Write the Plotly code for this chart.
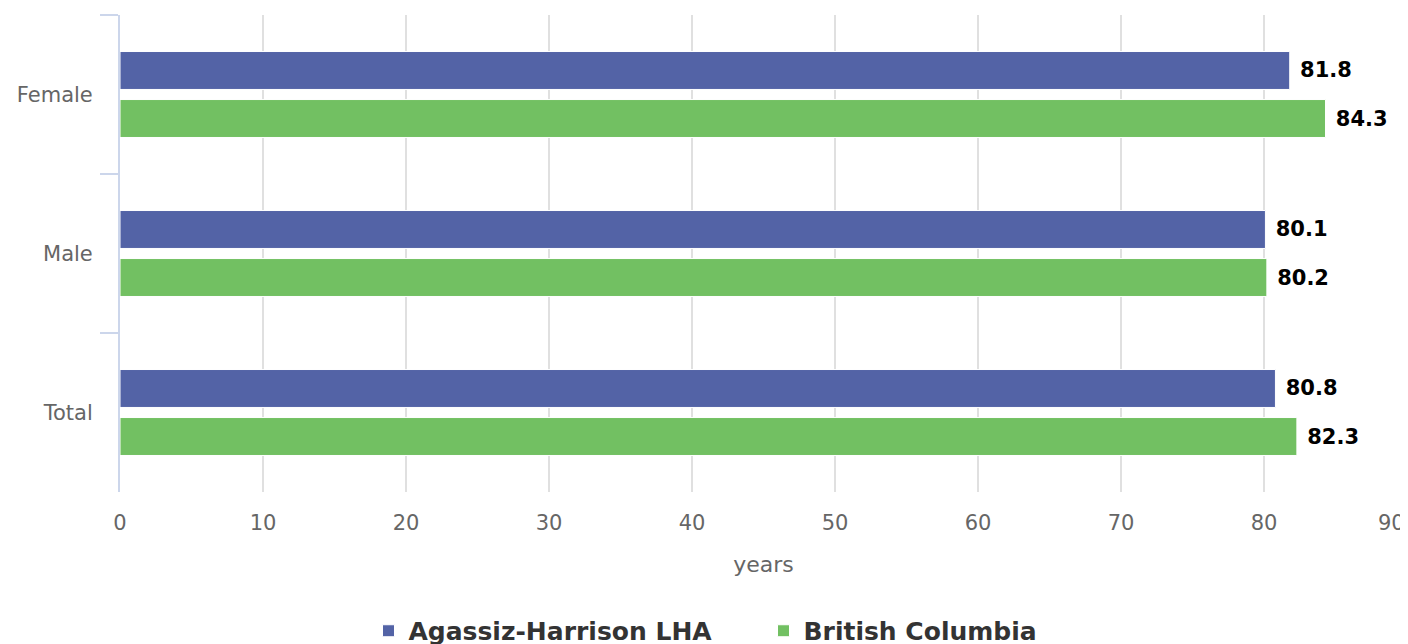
import plotly.graph_objects as go

categories = ["Female", "Male", "Total"]
agassiz_values = [81.8, 80.1, 80.8]
bc_values = [84.3, 80.2, 82.3]
series_names = ["Agassiz-Harrison LHA", "British Columbia"]
x_ticks = [0, 10, 20, 30, 40, 50, 60, 70, 80, 90]
x_title = "years"

FONT = "DejaVu Sans"
colors = ["#5363a6", "#72c062"]

fig = go.Figure()
for name, vals, col in zip(series_names, [agassiz_values, bc_values], colors):
    fig.add_trace(go.Bar(
        y=categories, x=vals, name=name, orientation="h",
        marker=dict(color=col, line=dict(color="#ffffff", width=1)),
        texttemplate="\u00a0%{x:.1f}", textposition="outside",
        textfont=dict(family=FONT, size=21, color="#000000", weight="bold"),
        constraintext="none", cliponaxis=False,
    ))

# page body has an 8px margin; figure is sized/offset to fill the window
fig.update_layout(
    width=1400, height=636,
    margin=dict(l=112, r=1, t=7, b=152, autoexpand=False),
    paper_bgcolor="#ffffff", plot_bgcolor="#ffffff",
    barmode="group", bargap=0.396, bargroupgap=0.21,
    font=dict(family=FONT, color="#666666"),
    showlegend=True,
    legend=dict(orientation="h", x=0.5, xanchor="center", y=-0.2914, yanchor="middle",
                font=dict(family=FONT, size=25, color="#333333", weight="bold"),
                entrywidth=350, entrywidthmode="pixels",
                traceorder="normal"),
    xaxis=dict(range=[0, 90], tickvals=x_ticks[:-1], ticktext=[str(t) for t in x_ticks[:-1]],
               showgrid=True, gridcolor="#e0e0e0", gridwidth=1.5, zeroline=False,
               showline=False, ticks="outside", ticklen=12, tickcolor="rgba(0,0,0,0)",
               tickfont=dict(family=FONT, size=21, color="#666666"),
               title=dict(text=x_title, font=dict(family=FONT, size=22, color="#666666"), standoff=22)),
    yaxis=dict(categoryorder="array", categoryarray=categories, autorange="reversed",
               showgrid=False, zeroline=False, showline=True, linecolor="#ccd6eb", linewidth=2,
               ticks="outside", tickson="boundaries", ticklen=18, tickcolor="#ccd6eb", tickwidth=2,
               ticklabelstandoff=21,
               tickfont=dict(family=FONT, size=21, color="#666666")),
)

fig.add_annotation(x=x_ticks[-1], xref="x", y=0, yref="paper", text=str(x_ticks[-1]),
                   showarrow=False, xanchor="right", yanchor="middle", yshift=-31,
                   font=dict(family=FONT, size=21, color="#666666"))

fig.write_html("out.html")
